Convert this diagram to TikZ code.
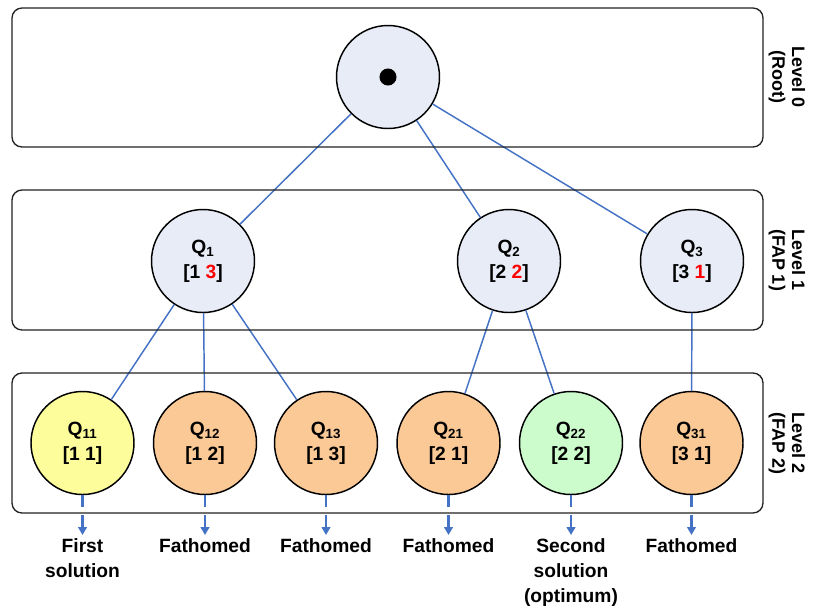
\documentclass[tikz,border=0pt]{standalone}
\usepackage{fontspec}
\setmainfont{Liberation Sans}
\usetikzlibrary{arrows.meta}
\definecolor{lnblue}{HTML}{4472C4}
\definecolor{nblue}{HTML}{E7ECF6}
\definecolor{nyellow}{HTML}{FDFD9C}
\definecolor{norange}{HTML}{FBC996}
\definecolor{ngreen}{HTML}{CCFCCC}
\definecolor{bordergray}{HTML}{222222}
\newcommand\mynodefont{\fontsize{14.4}{18.75}\selectfont\bfseries}
\newcommand\mylevelfont{\fontsize{13.5}{14.8}\selectfont\bfseries}
\begin{document}
\begin{tikzpicture}[x=0.75pt,y=-0.75pt,
  circ/.style={circle, draw=black, line width=1.1pt, minimum size=77.25pt, inner sep=0pt, align=center, font=\mynodefont},
  bluecirc/.style={circ, fill=nblue},
  yelcirc/.style={circ, fill=nyellow},
  orgcirc/.style={circ, fill=norange},
  grncirc/.style={circ, fill=ngreen},
  conn/.style={draw=lnblue, line width=1.1pt},
  arr/.style={draw=lnblue, line width=2pt, -{Triangle[length=6pt,width=6.5pt]}},
  gapline/.style={draw=white, line width=4.5pt},
  levelbox/.style={draw=bordergray, line width=1pt, rounded corners=7.5pt},
  lbl/.style={align=center, font=\mynodefont, inner sep=2.5pt, anchor=north},
  lvl/.style={align=center, font=\mylevelfont, rotate=-90, inner sep=0pt}
]
\useasboundingbox (0,0) rectangle (816,612);

% nodes
\node[bluecirc] (root) at (388,77) {};
\fill (root.center) circle (6.4pt);

\node[bluecirc] (q1) at (203,261) {Q\textsubscript{1}\\{[1 \textcolor{red}{3}]}};
\node[bluecirc] (q2) at (509,261) {Q\textsubscript{2}\\{[2 \textcolor{red}{2}]}};
\node[bluecirc] (q3) at (692,261) {Q\textsubscript{3}\\{[3 \textcolor{red}{1}]}};

\node[yelcirc] (q11) at (82.5,443) {Q\textsubscript{11}\\{[1 1]}};
\node[orgcirc] (q12) at (205,443) {Q\textsubscript{12}\\{[1 2]}};
\node[orgcirc] (q13) at (326,443) {Q\textsubscript{13}\\{[1 3]}};
\node[orgcirc] (q21) at (448.5,443) {Q\textsubscript{21}\\{[2 1]}};
\node[grncirc] (q22) at (571,443) {Q\textsubscript{22}\\{[2 2]}};
\node[orgcirc] (q31) at (691.5,443) {Q\textsubscript{31}\\{[3 1]}};

\node[lbl] (l11) at (82.5,535) {First\\solution};
\node[lbl] (l12) at (205,535) {Fathomed};
\node[lbl] (l13) at (326,535) {Fathomed};
\node[lbl] (l21) at (448.5,535) {Fathomed};
\node[lbl] (l22) at (571,535) {Second\\solution\\(optimum)};
\node[lbl] (l31) at (691.5,535) {Fathomed};

\node[lvl] (lv0) at (787,77) {Level 0\\(Root)};
\node[lvl] (lv1) at (787,260) {Level 1\\(FAP 1)};
\node[lvl] (lv2) at (787,443) {Level 2\\(FAP 2)};

% connectors
\draw[conn] (root) -- (q1);
\draw[conn] (root) -- (q2);
\draw[conn] (root) -- (q3);
\draw[conn] (q1) -- (q11);
\draw[conn] (q1) -- (q12);
\draw[conn] (q1) -- (q13);
\draw[conn] (q2) -- (q21);
\draw[conn] (q2) -- (q22);
\draw[conn] (q3) -- (q31);

\foreach \n in {11,12,13,21,22,31}{
  \draw[arr] (q\n.south) -- (l\n.north);
  \path (q\n.south) ++(0,12) coordinate (g1) ++(0,8) coordinate (g2);
  \draw[gapline] (g1) -- (g2);
}

% level boxes
\draw[levelbox] (12,8) rectangle (763,147);
\draw[levelbox] (12,190) rectangle (763,330);
\draw[levelbox] (12,373) rectangle (763,513);
\end{tikzpicture}
\end{document}
